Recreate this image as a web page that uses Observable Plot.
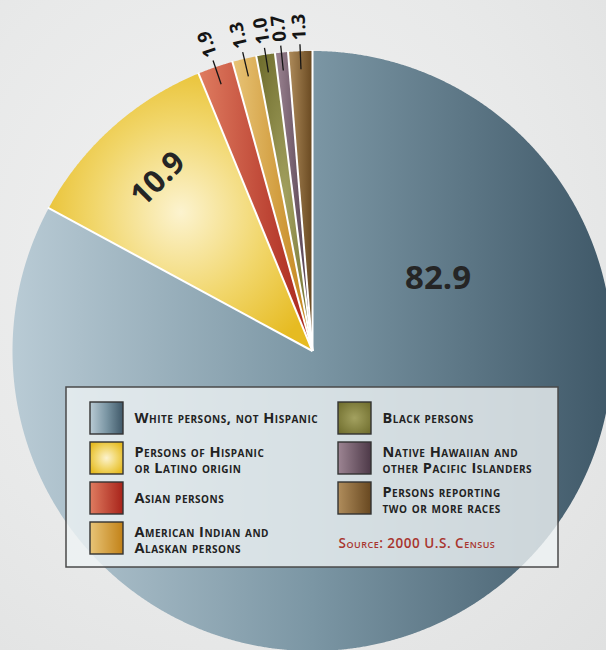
<!DOCTYPE html>
<html>
<head>
<meta charset="utf-8">
<script src="https://cdn.jsdelivr.net/npm/d3@7"></script>
<script src="https://cdn.jsdelivr.net/npm/@observablehq/plot@0.6"></script>
<style>
  html, body { margin: 0; padding: 0; }
  body {
    width: 606px; height: 650px; overflow: hidden;
    background: radial-gradient(ellipse at 40% 40%, #f2f2f2 0%, #e8e9e9 60%, #e0e1e1 100%);
  }
  #chart svg { display: block; }
</style>
</head>
<body>
<div id="chart"></div>
<script>
// ---- data ----
const categories = [
  "White persons, not Hispanic",
  "Persons of Hispanic or Latino origin",
  "Asian persons",
  "American Indian and Alaskan persons",
  "Black persons",
  "Native Hawaiian and other Pacific Islanders",
  "Persons reporting two or more races"
];
const values = [82.9, 10.9, 1.9, 1.3, 1.0, 0.7, 1.3];
const valueLabels = ["82.9", "10.9", "1.9", "1.3", "1.0", "0.7", "1.3"];
const legendLabels = [
  "White persons, not Hispanic",
  "Persons of Hispanic\nor Latino origin",
  "Asian persons",
  "American Indian and\nAlaskan persons",
  "Black persons",
  "Native Hawaiian and\nother Pacific Islanders",
  "Persons reporting\ntwo or more races"
];
const sourceNote = "Source: 2000 U.S. Census";

// ---- style ----
const gradients = [
  {type: "linear", stops: [[0, "#b9cbd5"], [0.5, "#7b96a4"], [1, "#3f5868"]]},
  {type: "radial", cx: 0.5, cy: 0.5, r: 0.6, stops: [[0, "#fcf3cf"], [0.55, "#f1d66a"], [1, "#e6bb22"]]},
  {type: "linear", stops: [[0, "#df7c60"], [1, "#a8231a"]]},
  {type: "linear", stops: [[0, "#e8c477"], [1, "#c28218"]]},
  {type: "radial", cx: 0.5, cy: 0.5, r: 0.7, stops: [[0, "#a3a160"], [1, "#6c6a2a"]]},
  {type: "linear", stops: [[0, "#9d8593"], [1, "#4d3948"]]},
  {type: "linear", stops: [[0, "#b08d5c"], [1, "#684820"]]}
];
const fontFamily = "'Open Sans', 'DejaVu Sans', sans-serif";

// ---- layout ----
const W = 606, H = 650;
const cx = 312, cy = 350.5, R = 300;

const arcs = d3.pie().sort(null).value(d => d)(values);
const polar = (a, r) => ({x: cx + r * Math.sin(a), y: cy - r * Math.cos(a)});

// slice outlines computed from the data angles
const slicePts = arcs.flatMap((a, i) => {
  const n = Math.max(2, Math.ceil((a.endAngle - a.startAngle) / 0.004));
  const pts = [{i, x: cx, y: cy}];
  for (let k = 0; k <= n; k++) {
    const t = a.startAngle + (a.endAngle - a.startAngle) * k / n;
    pts.push({i, ...polar(t, R)});
  }
  pts.push({i, x: cx, y: cy});
  return pts;
});

const separators = arcs.map(a => ({a: a.startAngle}));

// big in-slice labels
const bigLabels = [
  {text: valueLabels[0], ...polar(Math.PI / 3, 145), rotate: 0, size: 33},
  {text: valueLabels[1], ...polar((arcs[1].startAngle + arcs[1].endAngle) / 2, 231), rotate: -45, size: 31}
];

// small outside labels with leaders
const smallIdx = [2, 3, 4, 5, 6];
const smallLabels = smallIdx.map(i => {
  const m = (arcs[i].startAngle + arcs[i].endAngle) / 2;
  const deg = m * 180 / Math.PI;
  const p0 = polar(m, 282), p1 = polar(m, 307), pt = polar(m, 311);
  return {text: valueLabels[i], x1: p0.x, y1: p0.y, x2: p1.x, y2: p1.y, x: pt.x, y: pt.y, rotate: deg - 450};
});

// legend
const legendItems = categories.map((c, i) => {
  const col = i < 4 ? 0 : 1, row = i < 4 ? i : i - 4;
  const sx = col === 0 ? 90 : 338, sy = 402 + row * 40;
  return {i, label: legendLabels[i], x1: sx, x2: sx + 33, y1: sy, y2: sy + 32, tx: sx + 44, ty: sy + 16 + (legendLabels[i].includes("\n") ? 1.5 : 0)};
});

const plot = Plot.plot({
  width: W, height: H, margin: 0,
  x: {domain: [0, W], range: [0, W], axis: null},
  y: {domain: [0, H], range: [0, H], axis: null},
  color: {type: "identity"},
  style: {background: "transparent", fontFamily, overflow: "visible"},
  marks: [
    Plot.line(slicePts, {x: "x", y: "y", z: "i", fill: d => `url(#grad${d.i})`, stroke: null}),
    Plot.link(separators, {
      x1: cx, y1: cy,
      x2: d => polar(d.a, R + 1).x, y2: d => polar(d.a, R + 1).y,
      stroke: "white", strokeWidth: 2
    }),
    Plot.link(smallLabels, {x1: "x1", y1: "y1", x2: "x2", y2: "y2", stroke: "#151515", strokeWidth: 1.3}),
    Plot.text(smallLabels, {x: "x", y: "y", text: "text", rotate: "rotate", textAnchor: "start", lineAnchor: "middle",
      fontSize: 18.5, fontWeight: 700, fill: "#151515"}),
    Plot.text(bigLabels, {x: "x", y: "y", text: "text", rotate: "rotate", fontSize: d => d.size, fontWeight: 700,
      fill: "#252525", lineAnchor: "middle"}),
    Plot.rect([0], {x1: 66, x2: 558, y1: 387, y2: 567, fill: "#eef2f4", fillOpacity: 0.8, stroke: "#4a4a4a", strokeWidth: 1.5}),
    Plot.rect(legendItems, {x1: "x1", x2: "x2", y1: "y1", y2: "y2", fill: d => `url(#grad${d.i})`, stroke: "#333", strokeWidth: 1.4}),
    Plot.text(legendItems, {x: "tx", y: "ty", text: "label", textAnchor: "start", lineAnchor: "middle",
      fontSize: 14.5, fontWeight: 700, fontVariant: "small-caps", lineHeight: 1.06, fill: "#222"}),
    Plot.text([sourceNote], {x: 338, y: 543, text: d => d, textAnchor: "start", lineAnchor: "middle",
      fontSize: 13.5, fontWeight: 600, fontVariant: "small-caps", fill: "#a8352e"})
  ]
});

// gradient definitions
const defs = d3.select(plot).insert("defs", ":first-child");
gradients.forEach((g, i) => {
  const el = defs.append(g.type === "linear" ? "linearGradient" : "radialGradient").attr("id", "grad" + i);
  if (g.type === "linear") el.attr("x1", 0).attr("y1", 0).attr("x2", 1).attr("y2", 0);
  else el.attr("cx", g.cx).attr("cy", g.cy).attr("r", g.r);
  g.stops.forEach(([o, c]) => el.append("stop").attr("offset", o).attr("stop-color", c));
});

// letter spacing for the legend and source texts
const textGroups = d3.select(plot).selectAll('g[aria-label="text"]').nodes();
textGroups.slice(2).forEach(g => g.style.letterSpacing = "0.5px");

document.getElementById("chart").appendChild(plot);
</script>
</body>
</html>
